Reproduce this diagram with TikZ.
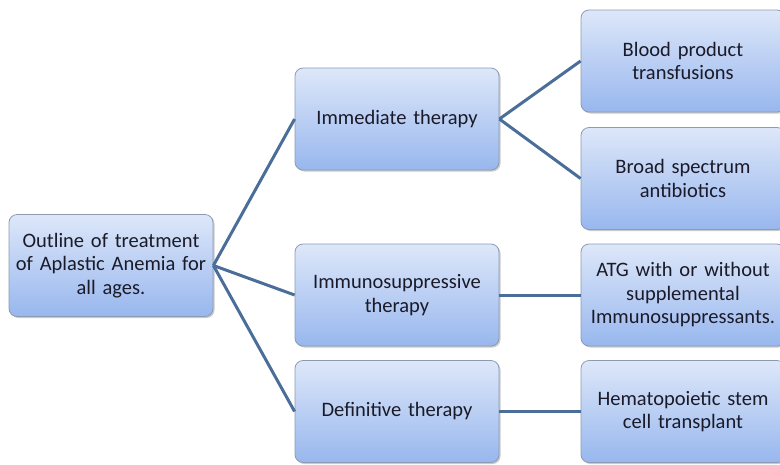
\documentclass[tikz,border=0pt]{standalone}
\usepackage{fontspec}
\setmainfont{Carlito}
\usetikzlibrary{shadows}
\definecolor{boxtop}{HTML}{DDE7F9}
\definecolor{boxbot}{HTML}{98B7EE}
\definecolor{boxline}{HTML}{8C9BB3}
\definecolor{linkc}{HTML}{4A6E99}
\definecolor{txt}{HTML}{1A1A28}
\tikzset{
  box/.style={rectangle, rounded corners=8pt, draw=boxline, line width=0.8pt,
    top color=boxtop, bottom color=boxbot, minimum width=204pt, minimum height=102pt,
    text width=200pt, align=center, inner sep=0pt, text=txt,
    font=\fontsize{20.5}{23.5}\selectfont,
    drop shadow={shadow xshift=1.5pt, shadow yshift=-1.5pt, opacity=0.35, fill=black!60}},
  link/.style={draw=linkc, line width=3pt}
}
\begin{document}
\begin{tikzpicture}[x=1pt,y=-1pt]
\useasboundingbox (0,0) rectangle (780,464);
\node[box] (root) at (111,265.5) {Outline of treatment\\of Aplastic Anemia for\\all ages.};
\node[box] (imm) at (397,119) {Immediate therapy};
\node[box] (ims) at (397,295) {Immunosuppressive\\therapy};
\node[box] (def) at (397,411.5) {Definitive therapy};
\node[box] (blood) at (683,61) {Blood product\\transfusions};
\node[box] (broad) at (683,178.5) {Broad spectrum\\antibiotics};
\node[box] (atg) at (683,295) {ATG with or without\\supplemental\\Immunosuppressants.};
\node[box] (hsc) at (683,411.5) {Hematopoietic stem\\cell transplant};
\draw[link] (root.east) -- (imm.west);
\draw[link] (root.east) -- (ims.west);
\draw[link] (root.east) -- (def.west);
\draw[link] (imm.east) -- (blood.west);
\draw[link] (imm.east) -- (broad.west);
\draw[link] (ims.east) -- (atg.west);
\draw[link] (def.east) -- (hsc.west);
\end{tikzpicture}
\end{document}
